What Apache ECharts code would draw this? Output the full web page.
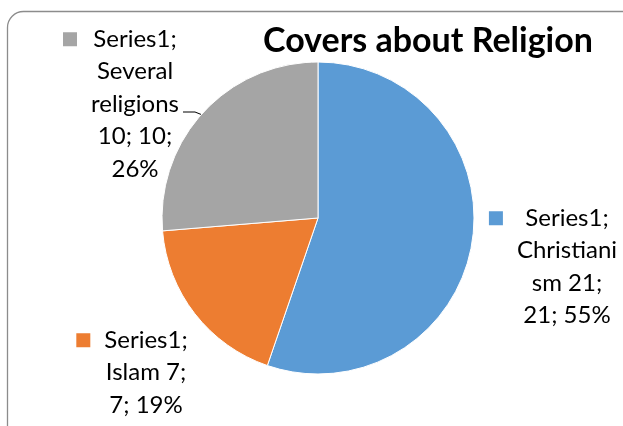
<!DOCTYPE html>
<html><head><meta charset="utf-8">
<script src="https://cdn.jsdelivr.net/npm/echarts@6/dist/echarts.min.js"></script>
<style>html,body{margin:0;padding:0;background:#fff}#c{width:623px;height:426px}</style>
</head><body><div id="c"></div>
<script>
var seriesName = "Series1";
var categories = ["Christianism", "Islam", "Several religions"];
var values = [21, 7, 10];
var percents = ["55%", "19%", "26%"];
// label text as wrapped in the reference
var labelLines = [
  ["Series1;", "Christiani", "sm 21;", "21; 55%"],
  ["Series1;", "Islam 7;", "7; 19%"],
  ["Series1;", "Several", "religions", "10; 10;", "26%"]
];
var colors = ["#5B9BD5", "#ED7D31", "#A5A5A5"];

// label anchor (centre of text column, top of block)
var labelPos = [[567, 202], [146, 324], [135, 23]];

var FONT = "Lato";
var rich = {
  t: {fontFamily: FONT, fontSize: 24, color: "#000", lineHeight: 32.5, align: "center"},
  g: {width: 14, height: 14, align: "left"},
  spL: {width: 28, align: "left"},
  spR: {width: 28, align: "right"}
};
colors.forEach(function (c, i) {
  rich["sq" + i] = {width: 14, height: 14, backgroundColor: c, align: "left"};
});

function fmt(p) {
  var lines = labelLines[p.dataIndex];
  return lines.map(function (l, k) {
    if (k === 0) return "{sq" + p.dataIndex + "|}{g|}{t|" + l + "}{spR|}";
    return "{spL|}{t|" + l + "}{spR|}";
  }).join("\n");
}

var data = categories.map(function (c, i) {
  return {
    name: c, value: values[i],
    itemStyle: {color: colors[i]},
    labelLine: {show: i === 2, lineStyle: {color: "#000", width: 1}}
  };
});

var chart = echarts.init(document.getElementById("c"), null, {renderer: "canvas"});
chart.setOption({
  animation: false,
  backgroundColor: "#fff",
  title: {
    text: "Covers about Religion",
    left: 263, top: 24, padding: 0,
    textStyle: {fontFamily: FONT, fontSize: 34, fontWeight: "bold", color: "#000"}
  },
  graphic: [{
    type: "rect", silent: true,
    shape: {x: 7.5, y: 11.5, width: 640, height: 440, r: 16},
    style: {fill: "none", stroke: "#8c8c8c", lineWidth: 1.3}
  }],
  series: [{
    type: "pie",
    name: seriesName,
    center: [318, 218],
    radius: [0, 156],
    startAngle: 90,
    clockwise: true,
    avoidLabelOverlap: false,
    itemStyle: {borderColor: "#fff", borderWidth: 1},
    label: {show: true, position: "outside", formatter: fmt, rich: rich, align: "center"},
    labelLine: {show: false},
    labelLayout: function (p) {
      var pos = labelPos[p.dataIndex];
      var o = {x: pos[0], y: pos[1], align: "center", verticalAlign: "top"};
      if (p.dataIndex === 2) o.labelLinePoints = [[183, 112], [195, 112], [205, 116]];
      return o;
    },
    data: data
  }]
});
</script></body></html>
